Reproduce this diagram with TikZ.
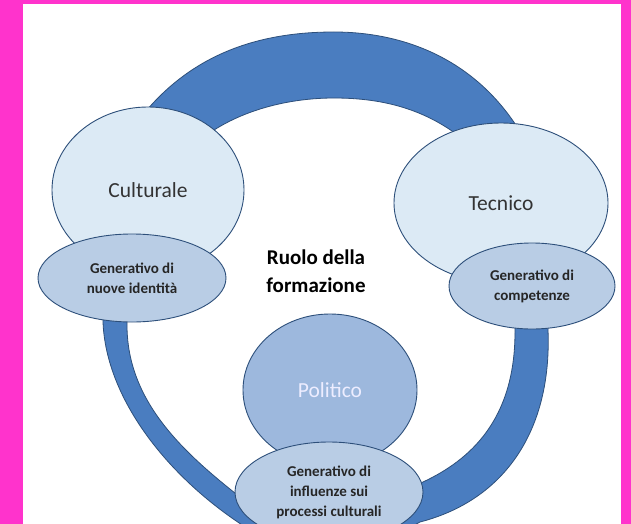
\documentclass[tikz,border=0pt]{standalone}
\usepackage{fontspec}
\setmainfont{Carlito}
\usetikzlibrary{shapes.geometric}
\definecolor{rosa}{RGB}{255,51,204}
\definecolor{banda}{RGB}{74,125,192}
\definecolor{bordo}{RGB}{45,79,122}
\definecolor{chiaro}{RGB}{220,234,245}
\definecolor{medio}{RGB}{185,205,229}
\definecolor{scuro}{RGB}{157,184,221}
\tikzset{
  grande/.style={ellipse, draw=bordo, line width=0.9pt, fill=chiaro, inner sep=0pt,
    font=\fontsize{21.5}{24}\selectfont, text=black!80},
  piccolo/.style={ellipse, draw=bordo, line width=0.9pt, fill=medio, inner sep=0pt,
    align=center, font=\bfseries\fontsize{15}{20}\selectfont, text=black!85},
  fascia/.style={fill=banda, draw=bordo, line width=0.8pt}
}

\begin{document}
\begin{tikzpicture}[x=1pt,y=-1pt]
		%%%%% START %%%%%
		
		\fill[rosa] (0,0) rectangle (631,524);
		\fill[white] (23,4) rectangle (621,524);
		\useasboundingbox (0,0) rectangle (631,524);
		
		\begin{scope}
		\clip (23,4) rectangle (621,524);
		
		% fascia in alto
		\draw[fascia] (135,125) .. controls (190,50) and (265,32) .. (334,32)
			.. controls (405,32) and (480,60) .. (525,140)
			-- (470,145) .. controls (430,110) and (385,98) .. (334,98)
			.. controls (285,98) and (235,112) .. (200,140) -- cycle;
		
		% fascia in basso
		\draw[fascia] (103,300) -- (103,322) .. controls (106,400) and (170,480) .. (250,530)
			.. controls (300,560) and (380,545) .. (420,522)
			.. controls (505,500) and (552,430) .. (548,330) -- (548,300)
			-- (515,300) -- (515,332) .. controls (515,420) and (470,460) .. (423,482)
			.. controls (380,505) and (290,520) .. (240,497)
			.. controls (180,450) and (128,400) .. (127,327) -- (127,300) -- cycle;
		
		\node[grande, minimum width=192pt, minimum height=166pt] (culturale) at (148,190) {Culturale};
		\node[grande, minimum width=214pt, minimum height=160pt] (tecnico) at (501,203) {Tecnico};
		\node[grande, fill=scuro, text=white!93!blue, minimum width=174pt, minimum height=152pt] (politico) at (330,390) {Politico};
		
		\node[piccolo, minimum width=188pt, minimum height=88pt] (identita) at (132,278) {Generativo di\\nuove identità};
		\node[piccolo, minimum width=166pt, minimum height=86pt] (competenze) at (532,286) {Generativo di\\competenze};
		\node[piccolo, minimum width=188pt, minimum height=100pt] (influenze) at (329,492) {Generativo di\\influenze sui\\processi culturali};
		
		\node[align=center, font=\bfseries\fontsize{21}{28}\selectfont] (ruolo) at (316,271) {Ruolo della\\formazione};
		\end{scope}
		
		%%%%% END %%%%%
\end{tikzpicture}
\end{document}
